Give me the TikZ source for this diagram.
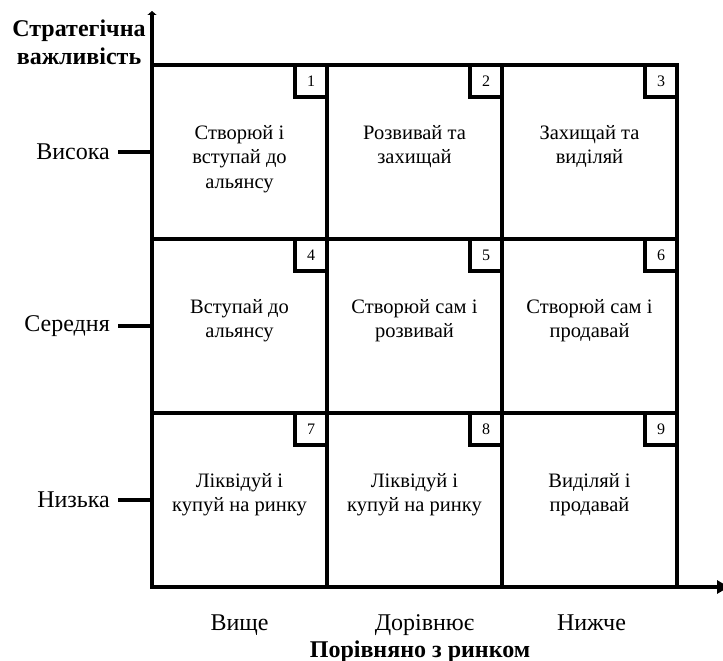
\documentclass[tikz,border=0pt]{standalone}
\usepackage{fontspec}
\setmainfont{Liberation Serif}
\usetikzlibrary{positioning,arrows.meta}

\tikzset{
    cell/.style={draw, line width=3.5pt, minimum width=175pt, minimum height=174pt, inner sep=0pt, outer sep=0pt},
    numbox/.style={draw, line width=3.5pt, minimum size=32pt, inner sep=0pt, outer sep=0pt, font=\fontsize{16}{18}\selectfont},
    celltext/.style={align=center, inner sep=0pt, font=\fontsize{20.5}{24.5}\selectfont},
    side/.style={inner sep=0pt, font=\fontsize{24}{28}\selectfont},
    axtitle/.style={align=center, inner sep=0pt, font=\fontsize{24}{28}\selectfont\bfseries},
    tick/.style={line width=3.5pt},
    axis/.style={line width=3.5pt}
}

\begin{document}
\begin{tikzpicture}[x=1pt,y=1pt]
    \useasboundingbox (0,0) rectangle (723,-661);
    \def\l{152}
    \def\t{65}
    \def\w{175}
    \def\h{174}
    \foreach \r/\c/\txt [count=\n] in {
        0/0/{Створюй і\\вступай до\\альянсу},
        0/1/{Розвивай та\\захищай},
        0/2/{Захищай та\\виділяй},
        1/0/{Вступай до\\альянсу},
        1/1/{Створюй сам і\\розвивай},
        1/2/{Створюй сам і\\продавай},
        2/0/{Ліквідуй і\\купуй на ринку},
        2/1/{Ліквідуй і\\купуй на ринку},
        2/2/{Виділяй і\\продавай}}
    {
    \node[cell] (c\n) at ({\l+\w*(\c+0.5)},{-\t-\h*(\r+0.5)}) {};
    \node[numbox, anchor=north east] (n\n) at (c\n.north east) {\n};
    \node[celltext, below=60pt of c\n.north] (t\n) {\txt};
    }
    \coordinate (o) at (\l,-587);
    \coordinate (ytop) at (\l,-11);
    \coordinate (xend) at (729,-587);
    \draw[axis, -{Triangle[width=9pt,length=4pt]}] (o) -- (ytop);
    \draw[axis, -{Triangle[width=13pt,length=12pt]}] (o) -- (xend);
    \foreach \lab [count=\r, evaluate=\r as \k using int(3*\r-2)] in {Висока, Середня, Низька}
    {
    \node[side, left=42pt of c\k.west] (s\r) {\lab};
    \draw[tick] ([xshift=8pt]s\r.east) -- (c\k.west);
    }
    \foreach \lab/\dx [count=\c, evaluate=\c as \k using int(\c+6)] in {Вище/0, Дорівнює/10, Нижче/2}
    {
    \node[side, below=43pt of c\k.south, anchor=base, xshift=\dx pt] (b\c) {\lab};
    }
    \node[axtitle] (ytitle) at (79,-42) {Стратегічна\\важливість};
    \node[axtitle, anchor=base] (xtitle) at (420,-657) {Порівняно з ринком};
\end{tikzpicture}
\end{document}
